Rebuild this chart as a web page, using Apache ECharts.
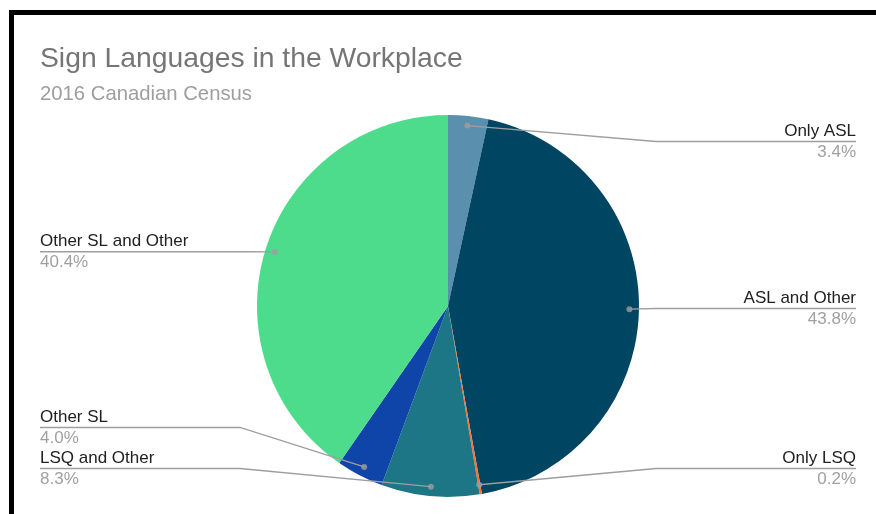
<!DOCTYPE html>
<html>
<head>
<meta charset="utf-8">
<script src="https://cdn.jsdelivr.net/npm/echarts@6/dist/echarts.min.js"></script>
<style>
  html, body { margin: 0; padding: 0; background: #fff; }
  #chart { width: 876px; height: 514px; }
</style>
</head>
<body>
<div id="chart"></div>
<script>
const titleText = 'Sign Languages in the Workplace';
const subtitleText = '2016 Canadian Census';
const categories = ['Only ASL', 'ASL and Other', 'Only LSQ', 'LSQ and Other', 'Other SL', 'Other SL and Other'];
const values = [3.4, 43.8, 0.2, 8.3, 4.0, 40.4];
const sliceColors = ['#5a8fad', '#004561', '#ff6f31', '#1c7685', '#0f45a8', '#4cdc8b'];

const FONT = "'Liberation Sans', Arial, sans-serif";
const CX = 448, CY = 306, R = 191;
const DOT_R = 0.95;
const BOX = { left: 30, right: 10, top: 121, bottom: 25 };

const total = values.reduce((a, b) => a + b, 0);
const dotData = [];
let cum = 0;
values.forEach(v => { dotData.push([DOT_R, cum + v / 2]); cum += v; });

const pieBase = {
  type: 'pie',
  left: BOX.left, right: BOX.right, top: BOX.top, bottom: BOX.bottom,
  center: [CX - BOX.left, CY - BOX.top],
  startAngle: 90,
  clockwise: true,
  emphasis: { disabled: true },
  silent: true
};

const chart = echarts.init(document.getElementById('chart'));
chart.setOption({
  animation: false,
  backgroundColor: '#ffffff',
  textStyle: { fontFamily: FONT },
  title: [
    { text: titleText, left: 40, top: 45, padding: 0,
      textStyle: { fontFamily: FONT, fontSize: 28.3, fontWeight: 'normal', color: '#757575' } },
    { text: subtitleText, left: 40, top: 84, padding: 0,
      textStyle: { fontFamily: FONT, fontSize: 20.3, fontWeight: 'normal', color: '#9e9e9e' } }
  ],
  graphic: [
    { type: 'rect', shape: { x: 9, y: 10, width: 867, height: 5 }, style: { fill: '#000' }, z: 100 },
    { type: 'rect', shape: { x: 9, y: 10, width: 5, height: 504 }, style: { fill: '#000' }, z: 100 }
  ],
  polar: { center: [CX, CY], radius: R },
  angleAxis: { type: 'value', min: 0, max: total, startAngle: 90, clockwise: true, show: false },
  radiusAxis: { type: 'value', min: 0, max: 1, show: false },
  series: [
    Object.assign({}, pieBase, {
      radius: R,
      itemStyle: { borderWidth: 0 },
      label: { show: false },
      labelLine: { show: false },
      data: categories.map((c, i) => ({ name: c, value: values[i], itemStyle: { color: sliceColors[i] } })),
      z: 2
    }),
    Object.assign({}, pieBase, {
      radius: R * DOT_R,
      avoidLabelOverlap: true,
      itemStyle: { color: 'rgba(0,0,0,0)', borderWidth: 0 },
      data: categories.map((c, i) => ({ name: c, value: values[i] })),
      label: {
        show: true,
        alignTo: 'edge',
        edgeDistance: 10,
        minMargin: 3,
        formatter: p => '{n|' + p.name + '}\n{p|' + p.value.toFixed(1) + '%}',
        rich: {
          n: { fontFamily: FONT, fontSize: 17, lineHeight: 21, color: '#212121' },
          p: { fontFamily: FONT, fontSize: 17, lineHeight: 21, color: '#a0a0a0' }
        }
      },
      labelLine: { show: true, length: 0.5, length2: 2, smooth: false,
        lineStyle: { color: '#9e9e9e', width: 1.3 } },
      labelLayout: function (params) {
        const pts = params.labelLinePoints;
        if (!pts) return {};
        const r = params.labelRect;
        const isLeft = r.x + r.width / 2 < CX;
        const start = pts[0];
        const y = r.y + r.height / 2;
        const bendX = isLeft ? CX - R - 17 : CX + R + 17;
        const endX = isLeft ? r.x : r.x + r.width;
        return { labelLinePoints: [start, [bendX, y], [endX, y]] };
      },
      z: 3
    }),
    {
      type: 'scatter',
      coordinateSystem: 'polar',
      data: dotData,
      symbol: 'circle',
      symbolSize: 6,
      itemStyle: { color: '#9e9e9e' },
      silent: true,
      z: 5
    }
  ]
});
</script>
</body>
</html>
